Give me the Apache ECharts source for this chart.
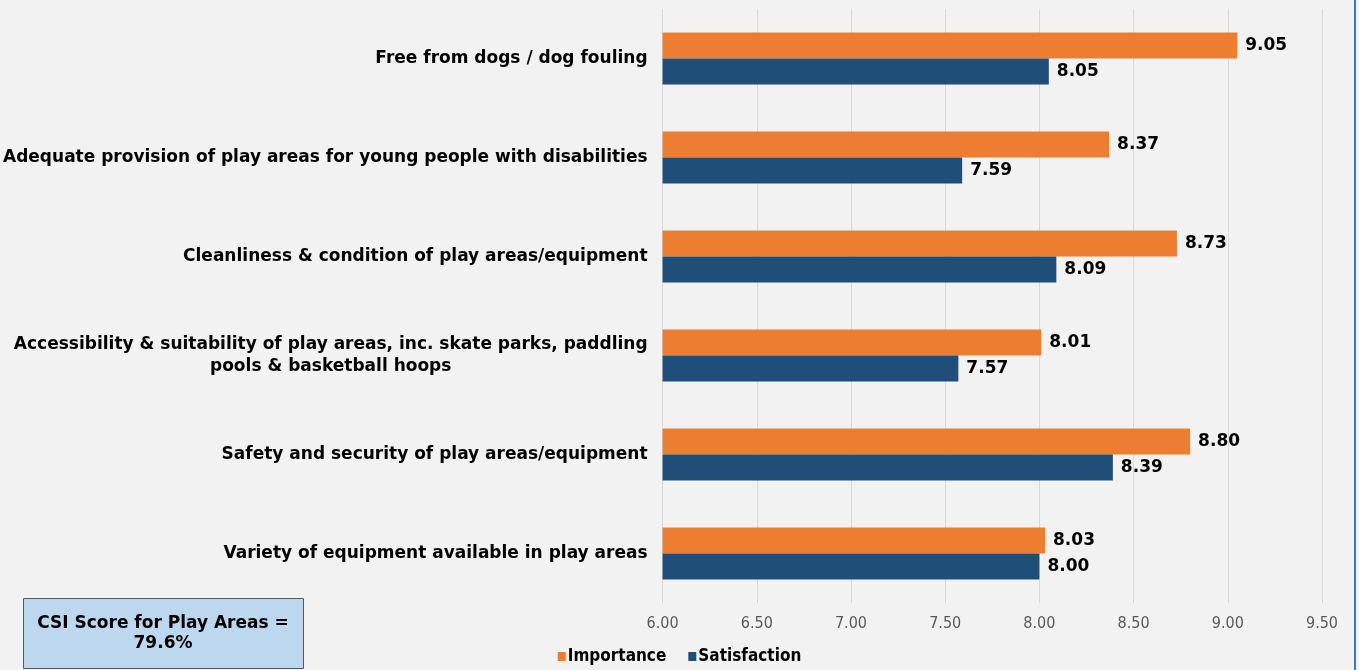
<!DOCTYPE html>
<html>
<head>
<meta charset="utf-8">
<title>Play Areas – Importance vs Satisfaction</title>
<script src="https://cdn.jsdelivr.net/npm/echarts@6/dist/echarts.min.js"></script>
<style>
  html, body { margin: 0; padding: 0; background: #f2f2f2; }
  #chart { width: 1359px; height: 670px; }
</style>
</head>
<body>
<div id="chart"></div>
<script>
// Categories listed top to bottom
const categories = [
  'Free from dogs / dog fouling',
  'Adequate provision of play areas for young people with disabilities',
  'Cleanliness & condition of play areas/equipment',
  'Accessibility & suitability of play areas, inc. skate parks, paddling\npools & basketball hoops',
  'Safety and security of play areas/equipment',
  'Variety of equipment available in play areas'
];
const importance   = [9.05, 8.37, 8.73, 8.01, 8.80, 8.03];
const satisfaction = [8.05, 7.59, 8.09, 7.57, 8.39, 8.00];
const seriesNames  = ['Importance', 'Satisfaction'];
const xTicks = { min: 6.0, max: 9.5, step: 0.5 };
const csiText = 'CSI Score for Play Areas =\n79.6%';

const ORANGE = '#ed7d31';
const NAVY = '#1f4e79';
const BOLD_FONT = '"DejaVu Sans", Verdana, sans-serif';
const NARROW_FONT = '"Liberation Sans Narrow", "DejaVu Sans Condensed", sans-serif';

const chart = echarts.init(document.getElementById('chart'));

// Wrapped labels are centred line by line
function catLabel(v) {
  return v.split('\n').map(l => '{c|' + l + '}').join('\n');
}

const valueLabel = {
  show: true,
  position: 'right',
  distance: 8,
  color: '#000',
  fontFamily: BOLD_FONT,
  fontWeight: 'bold',
  fontSize: 17,
  formatter: p => p.value.toFixed(2)
};

chart.setOption({
  backgroundColor: '#f2f2f2',
  animation: false,
  grid: { left: 661, right: 37, top: 9, bottom: 67, containLabel: false },
  legend: {
    data: seriesNames,
    left: 'center',
    top: 643,
    icon: 'rect',
    itemWidth: 8,
    itemHeight: 9,
    itemGap: 22,
    textStyle: { fontFamily: NARROW_FONT, fontWeight: 'bold', fontSize: 17, color: '#000', padding: [0, 0, 0, -3] }
  },
  xAxis: {
    type: 'value',
    min: xTicks.min,
    max: xTicks.max,
    interval: xTicks.step,
    axisLine: { show: false },
    axisTick: { show: false },
    splitLine: { show: true, lineStyle: { color: '#d9d9d9', width: 1 } },
    axisLabel: {
      margin: 13,
      color: '#595959',
      fontFamily: NARROW_FONT,
      fontSize: 16,
      formatter: v => v.toFixed(2)
    }
  },
  yAxis: {
    type: 'category',
    inverse: true,
    data: categories,
    axisLine: { show: false },
    axisTick: { show: false },
    axisLabel: {
      margin: 15,
      formatter: catLabel,
      rich: {
        c: {
          align: 'center',
          color: '#000',
          fontFamily: BOLD_FONT,
          fontWeight: 'bold',
          fontSize: 17,
          lineHeight: 22
        }
      }
    }
  },
  series: [
    {
      name: seriesNames[0],
      type: 'bar',
      data: importance,
      barWidth: 26,
      barGap: '0%',
      itemStyle: { color: ORANGE },
      label: valueLabel
    },
    {
      name: seriesNames[1],
      type: 'bar',
      data: satisfaction,
      barWidth: 26,
      barGap: '0%',
      itemStyle: { color: NAVY },
      label: valueLabel
    }
  ],
  graphic: [
    {
      type: 'rect',
      shape: { x: 23.5, y: 598.5, width: 280, height: 70 },
      style: { fill: '#bdd7ee', stroke: '#595959', lineWidth: 1 }
    },
    {
      type: 'text',
      x: 163,
      y: 634,
      style: {
        text: csiText,
        align: 'center',
        verticalAlign: 'middle',
        fill: '#000',
        font: 'bold 17px ' + BOLD_FONT,
        lineHeight: 20
      }
    },
    {
      type: 'rect',
      shape: { x: 1354, y: 0, width: 2, height: 670 },
      style: { fill: '#4472c4' }
    }
  ]
});
</script>
</body>
</html>
